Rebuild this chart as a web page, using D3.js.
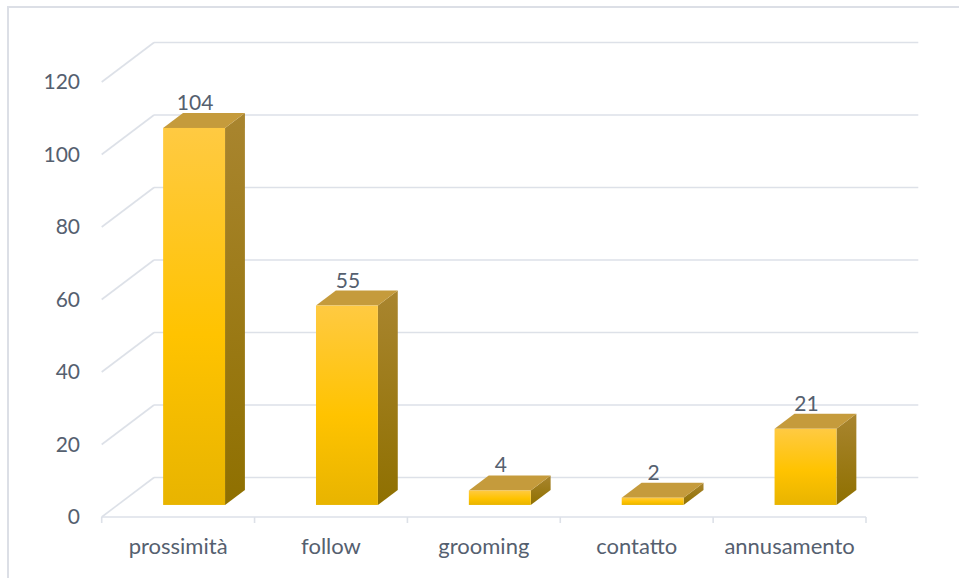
<!DOCTYPE html>
<html>
<head>
<meta charset="utf-8">
<script src="https://cdn.jsdelivr.net/npm/d3@7/dist/d3.min.js"></script>
<style>
  html, body { margin: 0; padding: 0; background: #ffffff; }
  svg { display: block; }
</style>
</head>
<body>
<svg id="chart" width="959" height="578"></svg>
<script>
// ---- data ----
const categories = ["prossimità", "follow", "grooming", "contatto", "annusamento"];
const values = [104, 55, 4, 2, 21];
const yTicks = [0, 20, 40, 60, 80, 100, 120];

// ---- layout ----
const W = 959, H = 578;
const frontLeft = 101.7, frontRight = 866, frontBottom = 517, frontTop = 82;
const depthX = 52.3, depthY = -39.5;           // full floor depth offset
const barFront = 0.305, barBack = 0.685;        // depth fractions of bars

const svg = d3.select("#chart");
const textColor = "#55606f";
const gridColor = "#dde1e8";
const font = "Lato, 'Open Sans', sans-serif";

const y = d3.scaleLinear().domain([0, 120]).range([frontBottom, frontTop]);
const x = d3.scaleBand().domain(categories).range([frontLeft, frontRight])
  .paddingInner(0.595).paddingOuter(0.2975);
const xb = d3.scaleLinear().domain([0, categories.length]).range([frontLeft, frontRight]);

// frame
svg.append("rect").attr("x", 8).attr("y", 7).attr("width", W).attr("height", H)
  .attr("fill", "none").attr("stroke", "#dcdfe6").attr("stroke-width", 2);

// defs (gradients)
const defs = svg.append("defs");
const gFront = defs.append("linearGradient").attr("id", "gFront")
  .attr("x1", 0).attr("y1", 0).attr("x2", 0).attr("y2", 1);
gFront.append("stop").attr("offset", "0%").attr("stop-color", "#ffca42");
gFront.append("stop").attr("offset", "55%").attr("stop-color", "#ffc300");
gFront.append("stop").attr("offset", "100%").attr("stop-color", "#e8b400");
const gSide = defs.append("linearGradient").attr("id", "gSide")
  .attr("x1", 0).attr("y1", 0).attr("x2", 0).attr("y2", 1);
gSide.append("stop").attr("offset", "0%").attr("stop-color", "#a9852f");
gSide.append("stop").attr("offset", "100%").attr("stop-color", "#8f7000");

// back wall gridlines
const grid = svg.append("g");
grid.selectAll("line.back").data(yTicks).join("line")
  .attr("x1", frontLeft + depthX).attr("x2", frontRight + depthX)
  .attr("y1", d => y(d) + depthY).attr("y2", d => y(d) + depthY)
  .attr("stroke", gridColor).attr("stroke-width", 1.6);
// side wall diagonals
grid.selectAll("line.side").data(yTicks).join("line")
  .attr("x1", frontLeft).attr("x2", frontLeft + depthX)
  .attr("y1", d => y(d)).attr("y2", d => y(d) + depthY)
  .attr("stroke", gridColor).attr("stroke-width", 1.6);
// front baseline
grid.append("line").attr("x1", frontLeft).attr("x2", frontRight)
  .attr("y1", frontBottom).attr("y2", frontBottom)
  .attr("stroke", gridColor).attr("stroke-width", 1.6);
grid.selectAll("line.tick").data(d3.range(categories.length + 1)).join("line")
  .attr("x1", d => xb(d)).attr("x2", d => xb(d))
  .attr("y1", frontBottom).attr("y2", frontBottom + 6)
  .attr("stroke", gridColor).attr("stroke-width", 1.6);

// y labels
svg.append("g").selectAll("text").data(yTicks).join("text")
  .attr("x", 80).attr("y", d => y(d) + 2)
  .attr("text-anchor", "end").attr("dominant-baseline", "middle")
  .attr("font-family", font).attr("font-size", 21).attr("fill", textColor)
  .text(d => d);

// category labels
svg.append("g").selectAll("text").data(categories).join("text")
  .attr("x", d => x(d) + x.bandwidth() / 2)
  .attr("y", 554)
  .attr("text-anchor", "middle")
  .attr("font-family", font).attr("font-size", 22).attr("fill", textColor)
  .text(d => d);

// bars
const fx = barFront * depthX, fy = barFront * depthY;
const bdx = (barBack - barFront) * depthX, bdy = (barBack - barFront) * depthY;
const bars = svg.append("g").selectAll("g").data(categories.map((c, i) => ({c, v: values[i]}))).join("g");
bars.each(function(d) {
  const g = d3.select(this);
  const x0 = x(d.c) + fx, x1 = x0 + x.bandwidth();
  const yb = y(0) + fy, yt = y(d.v) + fy;
  // side
  g.append("path")
    .attr("d", `M${x1},${yt} L${x1 + bdx},${yt + bdy} L${x1 + bdx},${yb + bdy} L${x1},${yb} Z`)
    .attr("fill", "url(#gSide)");
  // top
  g.append("path")
    .attr("d", `M${x0},${yt} L${x0 + bdx},${yt + bdy} L${x1 + bdx},${yt + bdy} L${x1},${yt} Z`)
    .attr("fill", "#c59b3c");
  // front
  g.append("rect").attr("x", x0).attr("y", yt).attr("width", x1 - x0).attr("height", yb - yt)
    .attr("fill", "url(#gFront)");
  // value label
  g.append("text")
    .attr("x", (x0 + x1) / 2 + 1).attr("y", yt + bdy - 3)
    .attr("text-anchor", "middle")
    .attr("font-family", font).attr("font-size", 21).attr("fill", textColor)
    .text(d.v);
});
</script>
</body>
</html>
